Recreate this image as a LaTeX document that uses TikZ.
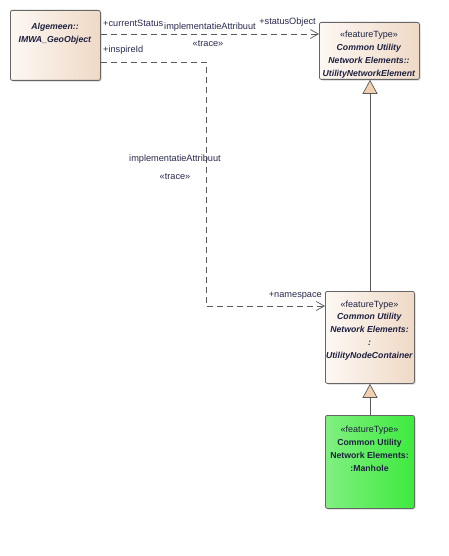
\documentclass[tikz,border=0pt]{standalone}
\usepackage{fontspec}
\setmainfont{Liberation Sans}
\usetikzlibrary{arrows.meta,shadows}
\definecolor{boxA}{HTML}{FDF8F3}
\definecolor{boxB}{HTML}{EFD9C6}
\definecolor{grA}{HTML}{80F080}
\definecolor{grB}{HTML}{3EEA3E}
\definecolor{txt}{HTML}{1E2040}
\definecolor{lbl}{HTML}{2A2A50}
\tikzset{
  cls/.style={draw=black!60, rounded corners=2pt, line width=0.8pt, left color=boxA, right color=boxB,
    drop shadow={shadow xshift=1.2pt, shadow yshift=-1.2pt, opacity=0.35, fill=black!50},
    inner sep=0pt},
  clsg/.style={cls, left color=grA, right color=grB},
  dep/.style={draw=black!65, line width=0.7pt, dash pattern=on 6pt off 4pt, -{Straight Barb[length=8pt,width=9pt,line width=0.7pt]}},
  gen/.style={draw=black!65, line width=0.7pt, -{Triangle[open, length=14pt, width=15pt, fill=boxB!90!orange]}},
  lab/.style={font=\fontsize{9.2}{11}\selectfont, text=lbl, inner sep=0pt},
  ctext/.style={inner sep=0pt, anchor=north, align=center, text=txt, font=\fontsize{9}{13}\selectfont},
}
\newcommand{\bi}[1]{\textbf{\textit{\fontsize{8.7}{13}\selectfont #1}}}
\newcommand{\bo}[1]{\textbf{\fontsize{8.7}{13}\selectfont #1}}
\begin{document}
\begin{tikzpicture}[x=1pt,y=-1pt]
\useasboundingbox[fill=white] (0,0) rectangle (448,556);
\node[cls, minimum width=90pt, minimum height=70pt, anchor=north west] (A) at (10,10) {};
\node[ctext, font=\fontsize{9}{12.5}\selectfont] at (55,23) {\bi{Algemeen::}\\\bi{IMWA\_GeoObject}};
\node[cls, minimum width=100pt, minimum height=57pt, anchor=north west] (B) at (319,22) {};
\node[ctext] at (369,31) {«featureType»\\\bi{Common Utility}\\\bi{Network Elements::}\\\bi{UtilityNetworkElement}};
\node[cls, minimum width=89pt, minimum height=92pt, anchor=north west] (C) at (325,291) {};
\node[ctext, font=\fontsize{9}{12.7}\selectfont] at (369.5,300.5) {«featureType»\\\bi{Common Utility}\\\bi{Network Elements:}\\\bi{:}\\\bi{UtilityNodeContainer}};
\node[clsg, minimum width=89pt, minimum height=93pt, anchor=north west] (D) at (325,415) {};
\node[ctext] at (369.5,425.5) {«featureType»\\\bo{Common Utility}\\\bo{Network Elements:}\\\bo{:Manhole}};
% dependencies
\draw[dep] (A.east |- 0,34) -- (B.west |- 0,34);
\coordinate (bend1) at (206,62);
\coordinate (bend2) at (206,306);
\draw[dep] (A.east |- 0,62) -- (bend1) -- (bend2) -- (C.west |- bend2);
% generalizations
\draw[gen] (C.north -| 370,0) -- (B.south -| 370,0);
\draw[gen] (D.north -| 370,0) -- (C.south -| 370,0);
% labels
\node[lab, anchor=west] at (103,23) {+currentStatus};
\node[lab] at (210,27) {implementatieAttribuut};
\node[lab, anchor=east] at (316,22) {+statusObject};
\node[lab] at (208,44) {«trace»};
\node[lab, anchor=west] at (103,50) {+inspireId};
\node[lab] at (175,159) {implementatieAttribuut};
\node[lab] at (175,177) {«trace»};
\node[lab, anchor=east] at (322,296) {+namespace};
\end{tikzpicture}
\end{document}
